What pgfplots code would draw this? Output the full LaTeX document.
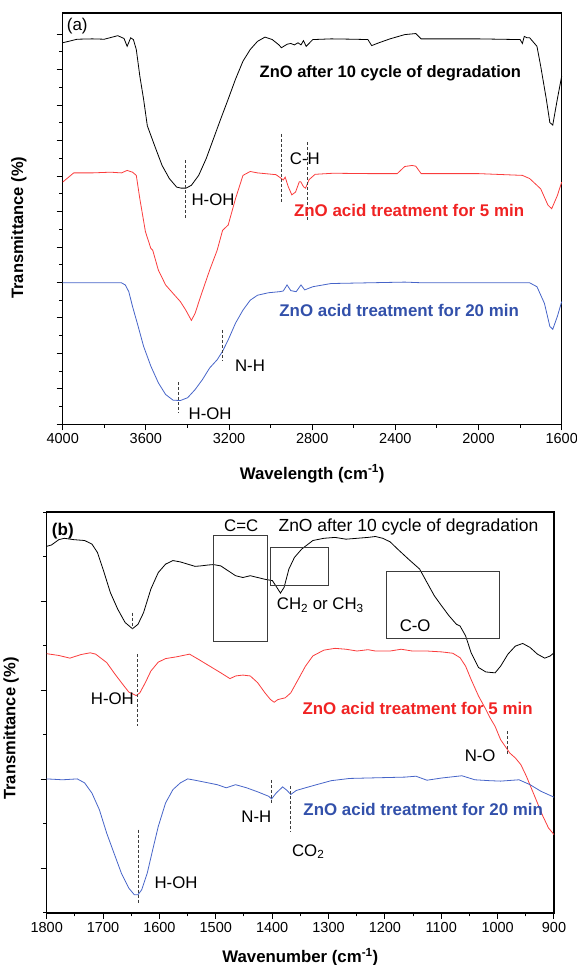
\documentclass[border=0pt]{standalone}
\usepackage{pgfplots}
\pgfplotsset{compat=1.18}
\usepackage{fontspec}
\setmainfont{Liberation Sans}
\definecolor{lred}{RGB}{250,60,60}
\definecolor{tred}{RGB}{240,35,35}
\definecolor{lblue}{RGB}{70,100,200}
\definecolor{tblue}{RGB}{50,80,170}
\definecolor{dgray}{RGB}{60,60,60}
\pgfplotsset{
  common/.style={
    scale only axis, clip=false,
    axis line style={line width=1.2pt},
    tick style={line width=1pt, black},
    tick align=outside, xtick pos=bottom, ytick pos=left,
    yticklabels={},
    major tick length=6pt, minor tick length=3.5pt,
    ticklabel style={font=\fontsize{14.5}{16}\selectfont},
    /pgf/number format/assume math mode=true,
    /pgf/number format/1000 sep={},
    x dir=reverse,
  },
}
\tikzset{
  curve/.style={line width=0.8pt},
  dshd/.style={draw=dgray, dashed, line width=0.7pt, dash pattern=on 3pt off 2pt},
  lab/.style={font=\fontsize{16.8}{18}\selectfont},
  blab/.style={font=\fontsize{16.9}{18}\selectfont\bfseries},
}
\begin{document}
\begin{tikzpicture}
\useasboundingbox (0,0) rectangle (577pt,965pt);
% ---------------- Panel (a)
\begin{axis}[common,
  at={(62.7pt,540.7pt)}, anchor=south west, width=499pt, height=411.3pt,
  xmin=1600, xmax=4000, ymin=0, ymax=11.6,
  xtick={1600,2000,...,4000}, minor x tick num=1,
  ytick={0,...,11}, minor y tick num=1,
  xlabel={\textbf{Wavelength (cm\textsuperscript{-1})}},
  xlabel style={font=\fontsize{16.8}{18}\selectfont, at={(axis description cs:0.5,-0.12)}, anchor=center},
  ylabel={\textbf{Transmittance (\%)}},
  ylabel style={font=\fontsize{16.5}{18}\selectfont, at={(axis description cs:-0.088,0.478)}, anchor=center},
]
\addplot[curve, black] coordinates {
(4000,10.76) (3930,10.86) (3858,10.87) (3800,10.86) (3735,10.96) (3705,10.88) (3690,10.66) (3673,10.90) (3660,10.85) (3646,10.57) (3629,9.82) (3611,9.17) (3593,8.42) (3558,7.86) (3522,7.30) (3487,6.93) (3452,6.69) (3430,6.66) (3407,6.66) (3381,6.74) (3346,7.02) (3310,7.49) (3275,8.05) (3240,8.61) (3204,9.17) (3169,9.73) (3133,10.24) (3098,10.57) (3063,10.80) (3027,10.92) (2992,10.85) (2960,10.70) (2948,10.62) (2920,10.72) (2903,10.74) (2886,10.70) (2868,10.76) (2854,10.70) (2842,10.82) (2829,10.66) (2797,10.85) (2709,10.87) (2600,10.86) (2532,10.85) (2514,10.68) (2479,10.76) (2426,10.87) (2355,10.99) (2302,11.02) (2276,10.87) (2100,10.87) (2002,10.87) (1800,10.85) (1789,10.74) (1780,10.94) (1767,10.90) (1754,10.90) (1719,10.66) (1701,10.10) (1674,9.17) (1657,8.51) (1643,8.44) (1621,9.17) (1600,9.82)
};
\addplot[curve, lred] coordinates {
(4000,6.83) (3947,7.09) (3858,7.09) (3770,7.11) (3717,7.09) (3690,7.16) (3664,7.11) (3646,7.02) (3629,6.36) (3602,5.43) (3576,4.96) (3567,4.91) (3540,4.35) (3505,3.93) (3469,3.69) (3434,3.46) (3408,3.22) (3381,2.93) (3363,3.13) (3337,3.60) (3293,4.35) (3257,4.91) (3231,5.47) (3204,5.62) (3169,6.36) (3133,7.02) (3098,7.13) (3063,7.09) (2974,7.04) (2948,6.93) (2939,6.89) (2930,6.97) (2915,6.70) (2898,6.47) (2880,6.55) (2862,6.84) (2855,6.84) (2842,6.70) (2832,6.66) (2815,6.90) (2786,7.05) (2700,7.08) (2532,7.07) (2391,7.07) (2355,7.27) (2320,7.30) (2302,7.28) (2276,7.07) (2002,7.07) (1789,7.02) (1754,6.93) (1701,6.64) (1666,6.18) (1648,6.08) (1621,6.45) (1600,6.83)
};
\addplot[curve, lblue] coordinates {
(4000,3.99) (3858,3.99) (3717,3.99) (3699,3.93) (3682,3.74) (3664,3.32) (3637,2.76) (3611,2.20) (3576,1.64) (3540,1.17) (3505,0.84) (3469,0.68) (3434,0.67) (3399,0.75) (3363,0.98) (3328,1.26) (3293,1.59) (3257,1.82) (3231,2.06) (3204,2.38) (3169,2.85) (3133,3.22) (3098,3.50) (3063,3.64) (3010,3.71) (2957,3.74) (2939,3.76) (2921,3.93) (2903,3.77) (2877,3.74) (2854,3.93) (2836,3.79) (2797,3.88) (2709,3.97) (2532,3.99) (2355,4.01) (2267,3.99) (1754,3.99) (1719,3.88) (1683,3.41) (1657,2.76) (1643,2.68) (1621,3.04) (1600,3.46)
};
\draw[dshd] (axis cs:3408,7.44) -- (axis cs:3408,5.80);
\draw[dshd] (axis cs:2948,8.19) -- (axis cs:2948,6.22);
\draw[dshd] (axis cs:2824,7.95) -- (axis cs:2824,5.71);
\draw[dshd] (axis cs:3231,2.66) -- (axis cs:3231,1.78);
\draw[dshd] (axis cs:3446,1.19) -- (axis cs:3446,0.33);
\node[font=\fontsize{17}{19}\selectfont, anchor=west, inner sep=0pt] at (axis cs:3981,11.22) {(a)};
\node[font=\fontsize{16.5}{18}\selectfont\bfseries, black] at (axis cs:2424,9.9) {ZnO after 10 cycle of degradation};
\node[blab, tred] at (axis cs:2334,6.03) {ZnO acid treatment for 5 min};
\node[blab, tblue] at (axis cs:2382,3.2) {ZnO acid treatment for 20 min};
\node[lab, anchor=west, inner sep=0pt] at (axis cs:3381,6.32) {H-OH};
\node[lab] at (axis cs:2835,7.48) {C-H};
\node[lab, anchor=west, inner sep=0pt] at (axis cs:3172,1.65) {N-H};
\node[lab, anchor=west, inner sep=0pt] at (axis cs:3395,0.31) {H-OH};
\end{axis}
% ---------------- Panel (b)
\begin{axis}[common,
  at={(46.7pt,52pt)}, anchor=south west, width=507.3pt, height=401pt,
  xmin=900, xmax=1800, ymin=0, ymax=9,
  xtick={900,1000,...,1800}, minor x tick num=1,
  ytick={1,3,5,7}, minor ytick={0,2,4,6,8,9},
  xlabel={\textbf{Wavenumber (cm\textsuperscript{-1})}},
  xlabel style={font=\fontsize{16.8}{18}\selectfont, at={(axis description cs:0.5,-0.11)}, anchor=center},
  ylabel={\textbf{Transmittance (\%)}},
  ylabel style={font=\fontsize{16.5}{18}\selectfont, at={(axis description cs:-0.07,0.46)}, anchor=center},
]
\addplot[curve, black] coordinates {
(1800,8.23) (1791.5,8.26) (1778.4,8.38) (1768.7,8.41) (1752.3,8.38) (1732.7,8.36) (1719.7,8.28) (1709.9,8.09) (1700.1,7.72) (1687.0,7.19) (1674.0,6.82) (1660.9,6.52) (1647.8,6.38) (1638.0,6.48) (1628.2,6.74) (1615.2,7.27) (1602.1,7.64) (1589.1,7.83) (1576.0,7.91) (1562.9,7.88) (1549.9,7.83) (1536.8,7.78) (1527.0,7.79) (1513.9,7.81) (1504.1,7.82) (1491.1,7.79) (1478.0,7.68) (1464.9,7.57) (1451.9,7.53) (1438.8,7.57) (1425.8,7.53) (1412.7,7.49) (1399.6,7.46) (1391.8,7.31) (1385.3,7.18) (1378.8,7.31) (1370.3,7.72) (1360.5,7.98) (1347.4,8.17) (1327.8,8.36) (1308.2,8.41) (1288.6,8.43) (1269.0,8.39) (1249.4,8.41) (1229.9,8.43) (1216.8,8.45) (1203.7,8.41) (1190.7,8.33) (1177.6,8.17) (1158.0,7.94) (1138.4,7.72) (1125.4,7.42) (1112.3,7.12) (1099.2,6.89) (1086.2,6.67) (1073.1,6.48) (1066.6,6.44) (1056.8,6.22) (1047.0,5.84) (1033.9,5.51) (1020.9,5.41) (1004.5,5.39) (994.7,5.54) (981.7,5.81) (968.6,5.99) (955.5,6.05) (942.5,5.96) (929.4,5.81) (916.4,5.72) (906.6,5.77) (900,5.84)
};
\addplot[curve, lred] coordinates {
(1800,5.82) (1778.4,5.78) (1758.9,5.72) (1739.3,5.80) (1722.9,5.84) (1713.1,5.81) (1693.5,5.62) (1680.5,5.39) (1667.4,5.17) (1654.4,4.96) (1641.3,4.88) (1634.8,4.94) (1625.0,5.17) (1615.2,5.43) (1602.1,5.63) (1589.1,5.71) (1569.5,5.75) (1546.6,5.81) (1530.3,5.69) (1510.7,5.54) (1491.1,5.39) (1474.8,5.26) (1464.9,5.32) (1451.9,5.34) (1438.8,5.32) (1425.8,5.17) (1412.7,4.94) (1402.9,4.79) (1396.4,4.73) (1389.9,4.79) (1376.8,4.83) (1367.0,4.94) (1353.9,5.24) (1340.9,5.54) (1327.8,5.77) (1308.2,5.90) (1288.6,5.94) (1269.0,5.92) (1249.4,5.88) (1229.9,5.91) (1216.8,5.88) (1190.7,5.88) (1171.1,5.92) (1151.5,5.88) (1125.4,5.88) (1099.2,5.86) (1079.6,5.83) (1066.6,5.73) (1056.8,5.54) (1047.0,5.24) (1033.9,4.87) (1020.9,4.57) (1014.3,4.40) (1004.5,4.19) (994.7,3.89) (984.9,3.71) (978.4,3.59) (968.6,3.48) (958.8,3.33) (949.0,3.07) (939.2,2.77) (929.4,2.47) (919.6,2.17) (909.8,1.91) (900,1.76)
};
\addplot[curve, lblue] coordinates {
(1800,3.01) (1771.9,2.99) (1745.8,3.01) (1732.7,2.92) (1719.7,2.69) (1706.6,2.32) (1693.5,1.79) (1680.5,1.34) (1667.4,0.89) (1654.4,0.56) (1644.6,0.41) (1638.0,0.41) (1631.5,0.52) (1621.7,0.89) (1611.9,1.42) (1602.1,1.94) (1589.1,2.47) (1576.0,2.77) (1562.9,2.92) (1549.9,3.01) (1536.8,2.98) (1517.2,2.93) (1497.6,2.88) (1481.3,2.81) (1464.9,2.88) (1445.4,2.81) (1425.8,2.72) (1406.2,2.62) (1401.0,2.56) (1393.1,2.69) (1381.4,2.83) (1373.5,2.75) (1367.0,2.66) (1357.2,2.75) (1340.9,2.81) (1321.3,2.88) (1295.2,2.97) (1262.5,3.02) (1229.9,3.03) (1164.5,3.05) (1144.9,3.07) (1125.4,2.98) (1099.2,3.03) (1063.3,3.08) (1040.4,2.99) (1014.3,2.97) (994.7,2.96) (962.1,2.99) (942.5,2.88) (922.9,2.73) (900,2.60)
};
\draw[dgray, line width=0.8pt] (axis cs:1503.5,6.09) rectangle (axis cs:1408,8.48);
\draw[dgray, line width=0.8pt] (axis cs:1403,7.36) rectangle (axis cs:1301,8.21);
\draw[dgray, line width=0.8pt] (axis cs:1197,6.17) rectangle (axis cs:997,7.67);
\draw[dshd] (axis cs:1648,6.74) -- (axis cs:1648,6.38);
\draw[dshd] (axis cs:1639,5.81) -- (axis cs:1639,4.19);
\draw[dshd] (axis cs:983,4.08) -- (axis cs:983,3.52);
\draw[dshd] (axis cs:1402,2.99) -- (axis cs:1402,2.43);
\draw[dshd] (axis cs:1368,2.84) -- (axis cs:1368,1.81);
\draw[dshd] (axis cs:1637,1.87) -- (axis cs:1637,0.23);
\node[font=\fontsize{17}{19}\selectfont\bfseries, anchor=west, inner sep=0pt] at (axis cs:1791,8.58) {(b)};
\node[lab] at (axis cs:1455,8.69) {C=C};
\node[font=\fontsize{17.5}{19}\selectfont, anchor=west, inner sep=0pt] at (axis cs:1389,8.66) {ZnO after 10 cycle of degradation};
\node[lab, anchor=west, inner sep=0pt] at (axis cs:1392,6.91) {CH\textsubscript{2} or CH\textsubscript{3}};
\node[lab, anchor=west, inner sep=0pt] at (axis cs:1174,6.44) {C-O};
\node[lab, anchor=east, inner sep=0pt] at (axis cs:1645,4.81) {H-OH};
\node[blab, tred] at (axis cs:1142,4.59) {ZnO acid treatment for 5 min};
\node[lab] at (axis cs:1031,3.53) {N-O};
\node[blab, tblue] at (axis cs:1132,2.32) {ZnO acid treatment for 20 min};
\node[lab] at (axis cs:1428,2.17) {N-H};
\node[lab] at (axis cs:1336,1.38) {CO\textsubscript{2}};
\node[lab, anchor=west, inner sep=0pt] at (axis cs:1609,0.68) {H-OH};
\end{axis}
\end{tikzpicture}
\end{document}
